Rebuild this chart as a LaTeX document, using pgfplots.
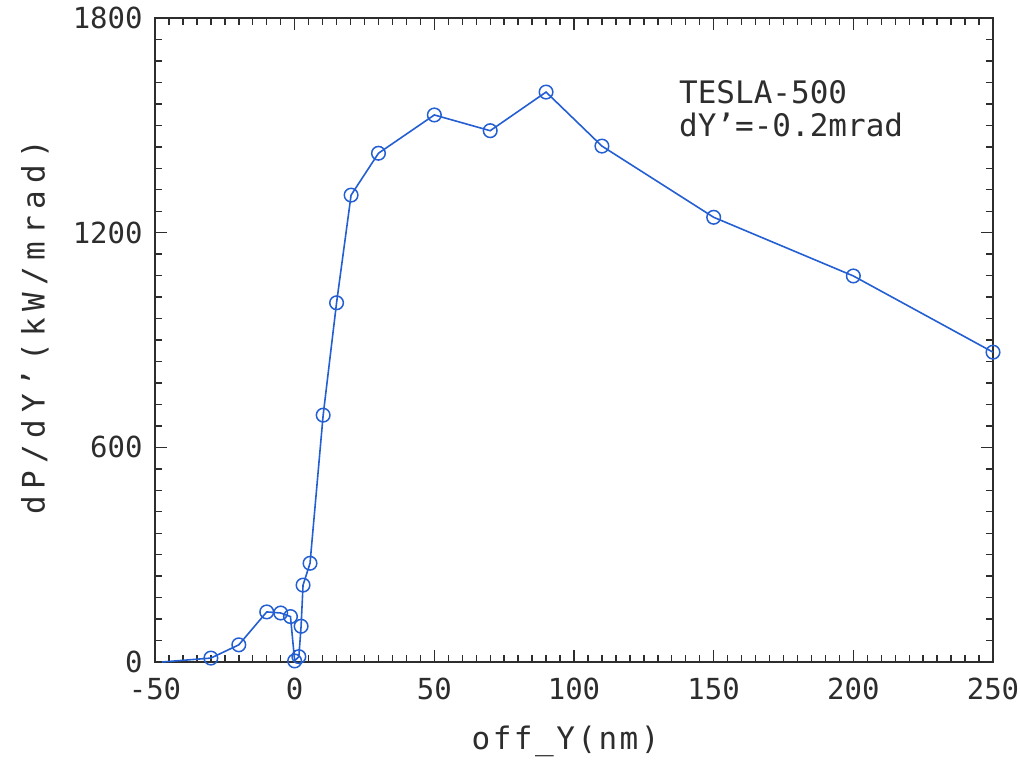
\documentclass[border=0pt]{standalone}
\usepackage{fontspec}
\setmainfont{DejaVu Sans Mono}
\usepackage{pgfplots}
\pgfplotsset{compat=1.18}
\definecolor{lineblue}{RGB}{35,95,210}
\definecolor{txt}{RGB}{45,45,45}
\begin{document}
\begin{tikzpicture}
\begin{axis}[
  scale only axis,
  width=419pt, height=322pt,
  xmin=-50, xmax=250, ymin=0, ymax=1800,
  xtick={-50,0,50,100,150,200,250}, ytick={0,600,1200,1800},
  xticklabels={-50,0,50,100,150,200,250},
  yticklabels={0,600,1200,1800},
  minor x tick num=9, minor y tick num=9,
  tick align=inside,
  major tick length=6pt, minor tick length=3.5pt,
  axis line style={line width=0.9pt, txt},
  every tick/.style={txt, line width=0.7pt},
  ticklabel style={font=\fontsize{14.5}{16}\selectfont, text=txt, inner sep=0pt},
  xticklabel style={anchor=north, yshift=-8pt},
  yticklabel style={anchor=east, xshift=-6pt},
  every axis x label/.style={at={(axis description cs:0.49,-0.124)}, anchor=center},
  every axis y label/.style={at={(axis description cs:-0.1432,0.52)}, anchor=center, rotate=90},
  xlabel={\addfontfeatures{LetterSpace=8}off\_Y(nm)},
  ylabel={\addfontfeatures{LetterSpace=22}dP/dY'(kW/mrad)},
  label style={font=\fontsize{15.5}{18}\selectfont, text=txt},
  clip=false,
]
\addplot[lineblue, line width=0.8pt, no marks] coordinates {(-47.5,0) (-30,11)};
\addplot[lineblue, line width=0.8pt, mark=o, mark size=3.4pt, mark options={line width=0.75pt}] coordinates {
(-30,11) (-20,48) (-10,140) (-5,137) (-1.5,127) (0,3) (1.5,15) (2.3,100) (3,215) (5.5,276)
(10.2,690) (15,1004) (20.2,1305) (30,1422) (50,1529) (70,1485) (90,1593) (110,1442)
(150,1243) (200,1079) (250,866)
};
\node[anchor=base west, font=\fontsize{15.5}{18}\selectfont, text=txt, inner sep=0pt] at (axis cs:137.5,1562) {TESLA-500};
\node[anchor=base west, font=\fontsize{15.5}{18}\selectfont, text=txt, inner sep=0pt] at (axis cs:137.5,1468) {dY'=-0.2mrad};
\coordinate (bl) at (rel axis cs:0,0);
\coordinate (tr) at (rel axis cs:1,1);
\end{axis}
\pgfresetboundingbox
\path[use as bounding box] ([shift={(-77.5pt,-49.5pt)}]bl) rectangle ([shift={(13.5pt,9pt)}]tr);
\end{tikzpicture}
\end{document}
